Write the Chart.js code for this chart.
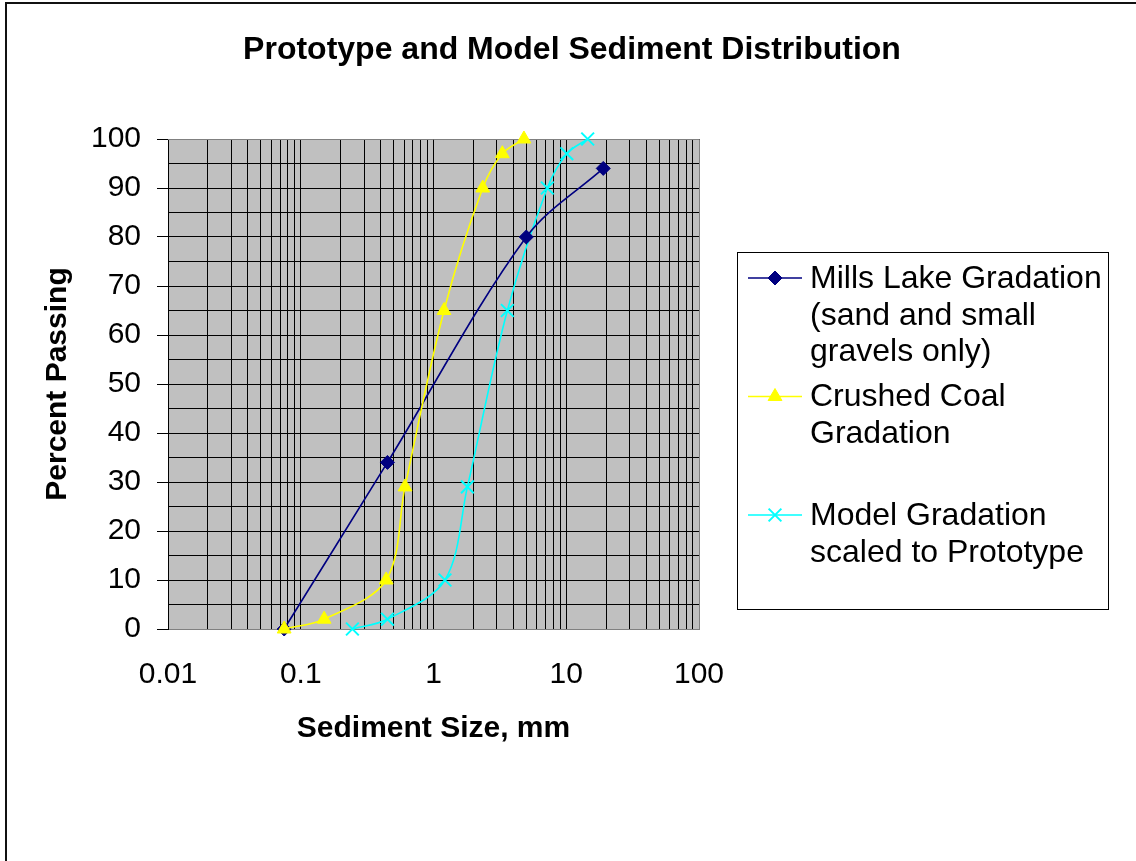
<!doctype html>
<html>
<head>
  <title>Prototype and Model Sediment Distribution</title>
  <script src="https://cdn.jsdelivr.net/npm/chart.js@4/dist/chart.umd.min.js"></script>
  <style>
    body { margin: 0; background: #fff; }
    #wrap { width: 1136px; height: 861px; }
  </style>
</head>
<body>
<div id="wrap">
  <canvas id="sediment" width="1136" height="861"></canvas>
</div>
<script>
  const FONT = "'Liberation Sans', Arial, sans-serif";

  // sediment size (mm) and percent passing
  const millsSize = [0.075, 0.45, 5.0, 19];
  const millsPass = [0, 34, 80, 94];

  const coalSize = [0.075, 0.15, 0.44, 0.61, 1.2, 2.35, 3.3, 4.8];
  const coalPass = [0, 2, 10, 29, 65, 90, 97, 100];

  const modelSize = [0.245, 0.45, 1.22, 1.8, 3.6, 7.2, 10.1, 14.5];
  const modelPass = [0, 2, 10, 29, 65, 90, 97, 100];

  const chartTitle = 'Prototype and Model Sediment Distribution';
  const seriesNames = ['Mills Lake Gradation (sand and small gravels only)', 'Crushed Coal Gradation', 'Model Gradation scaled to Prototype'];
  const legendLines = [
    ['Mills Lake Gradation', '(sand and small', 'gravels only)'],
    ['Crushed Coal', 'Gradation'],
    ['Model Gradation', 'scaled to Prototype']
  ];

  const xTickLabels = ['0.01', '0.1', '1', '10', '100'];
  const xDecades = [0.01, 0.1, 1, 10];
  const xMultipliers = [1, 2, 3, 4, 5, 6, 7, 8, 9];

  function toPoints(xs, ys) {
    return xs.map((x, i) => ({ x: x, y: ys[i] }));
  }

  // grey plot area, top/right border, outer frame and the title
  const plotBackground = {
    id: 'plotBackground',
    beforeDraw(chart) {
      const { ctx, chartArea: a } = chart;
      ctx.save();
      ctx.fillStyle = '#c0c0c0';
      ctx.fillRect(a.left, a.top, a.right - a.left, a.bottom - a.top);
      ctx.restore();
    },
    beforeDatasetsDraw(chart) {
      const { ctx, chartArea: a } = chart;
      ctx.save();
      ctx.strokeStyle = '#808080';
      ctx.lineWidth = 1;
      ctx.beginPath();
      ctx.moveTo(a.left, Math.round(a.top) + 0.5);
      ctx.lineTo(Math.round(a.right) + 0.5, Math.round(a.top) + 0.5);
      ctx.lineTo(Math.round(a.right) + 0.5, a.bottom);
      ctx.stroke();
      ctx.restore();
    },
    afterDraw(chart) {
      const ctx = chart.ctx;
      ctx.save();
      ctx.strokeStyle = '#111';
      ctx.lineWidth = 2;
      ctx.beginPath();
      ctx.moveTo(6, chart.height);
      ctx.lineTo(6, 3);
      ctx.lineTo(chart.width, 3);
      ctx.stroke();

      ctx.fillStyle = '#000';
      ctx.font = 'bold 32px ' + FONT;
      ctx.textAlign = 'center';
      ctx.textBaseline = 'middle';
      ctx.fillText(chartTitle, 572, 50);
      ctx.restore();
    }
  };

  // Excel style boxed legend with wrapped labels
  const boxLegend = {
    id: 'boxLegend',
    afterDraw(chart) {
      const ctx = chart.ctx;
      const left = 737.5, top = 252.5, right = 1108.5, bottom = 609.5;
      const lineH = 36.7, itemStep = 118.5, firstY = 278;
      ctx.save();
      ctx.fillStyle = '#fff';
      ctx.fillRect(left, top, right - left, bottom - top);
      ctx.strokeStyle = '#000';
      ctx.lineWidth = 1;
      ctx.strokeRect(left, top, right - left, bottom - top);
      chart.data.datasets.forEach((ds, i) => {
        const y = firstY + i * itemStep;
        ctx.strokeStyle = ds.borderColor;
        ctx.lineWidth = 1.5;
        ctx.beginPath();
        ctx.moveTo(748, y);
        ctx.lineTo(802, y);
        ctx.stroke();
        ctx.fillStyle = ds.backgroundColor;
        ctx.lineWidth = ds.pointBorderWidth;
        Chart.helpers.drawPoint(ctx, {
          pointStyle: ds.pointStyle,
          radius: ds.pointRadius,
          borderWidth: ds.pointBorderWidth
        }, 775, y);
        ctx.fillStyle = '#000';
        ctx.font = '32px ' + FONT;
        ctx.textBaseline = 'middle';
        ctx.textAlign = 'left';
        legendLines[i].forEach((t, j) => ctx.fillText(t, 810, y + 1 + j * lineH));
      });
      ctx.restore();
    }
  };

  const datasets = [
    {
      label: seriesNames[0],
      data: toPoints(millsSize, millsPass),
      borderColor: '#000080',
      backgroundColor: '#000080',
      pointStyle: 'rectRot',
      pointRadius: 7,
      pointBorderWidth: 1,
      borderWidth: 1.6,
      tension: 0.33,
      clip: 12,
      order: 1
    },
    {
      label: seriesNames[1],
      data: toPoints(coalSize, coalPass),
      borderColor: '#ffff00',
      backgroundColor: '#ffff00',
      pointStyle: 'triangle',
      pointRadius: 8,
      pointBorderWidth: 1,
      borderWidth: 1.6,
      tension: 0.33,
      clip: 12,
      order: 0
    },
    {
      label: seriesNames[2],
      data: toPoints(modelSize, modelPass),
      borderColor: '#00ffff',
      backgroundColor: '#00ffff',
      pointStyle: 'crossRot',
      pointRadius: 9,
      pointBorderWidth: 2,
      borderWidth: 1.6,
      tension: 0.33,
      clip: 12,
      order: 2
    }
  ];

  new Chart(document.getElementById('sediment').getContext('2d'), {
    type: 'line',
    data: { datasets: datasets },
    plugins: [plotBackground, boxLegend],
    options: {
      responsive: false,
      animation: false,
      layout: { padding: { left: 10, right: 437, top: 139, bottom: 0 } },
      plugins: {
        legend: { display: false },
        tooltip: { enabled: false },
        title: { display: false }
      },
      scales: {
        x: {
          type: 'logarithmic',
          min: 0.01,
          max: 100,
          afterBuildTicks(scale) {
            const ticks = [];
            xDecades.forEach(d => xMultipliers.forEach(m => ticks.push({ value: +(d * m).toPrecision(3) })));
            ticks.push({ value: 100 });
            scale.ticks = ticks;
          },
          afterFit(scale) { scale.height = 232; },
          ticks: {
            autoSkip: false,
            maxRotation: 0,
            color: '#000',
            padding: 28,
            font: { family: FONT, size: 30, lineHeight: 1.2 },
            callback(value) {
              const k = Math.log10(value) + 2;
              return Math.abs(k - Math.round(k)) < 1e-6 ? xTickLabels[Math.round(k)] : '';
            }
          },
          grid: { color: '#000', lineWidth: 1, drawTicks: false },
          border: { color: '#808080', width: 1 },
          title: {
            display: true,
            text: 'Sediment Size, mm',
            color: '#000',
            font: { family: FONT, size: 30, weight: 'bold', lineHeight: 1.2 },
            padding: { top: 0, bottom: 114 }
          }
        },
        y: {
          min: 0,
          max: 100,
          afterFit(scale) { scale.width = 158; },
          ticks: {
            stepSize: 5,
            autoSkip: false,
            color: '#000',
            padding: 16,
            font: { family: FONT, size: 30, lineHeight: 1.2 },
            callback(value) { return value % 10 === 0 ? String(value) : ''; }
          },
          grid: {
            color: '#000',
            lineWidth: 1,
            tickLength: 11,
            tickColor: ctx => (ctx.tick && ctx.tick.value % 10 === 0) ? '#000' : 'rgba(0,0,0,0)'
          },
          border: { color: '#000', width: 1 },
          title: {
            display: true,
            text: 'Percent Passing',
            color: '#000',
            font: { family: FONT, size: 30, weight: 'bold', lineHeight: 1.2 },
            padding: { top: 30, bottom: 0 }
          }
        }
      }
    }
  });
</script>
</body>
</html>
